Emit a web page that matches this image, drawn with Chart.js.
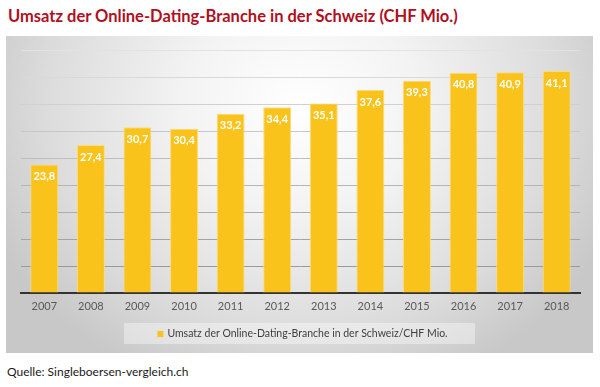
<!DOCTYPE html>
<html><head><meta charset="utf-8">
<script src="https://cdn.jsdelivr.net/npm/chart.js@4.4.1/dist/chart.umd.min.js"></script>
<style>
html,body{margin:0;padding:0;background:#fff;width:600px;height:387px;overflow:hidden;}
#title{position:absolute;left:8px;top:6px;font:bold 16.5px Lato,"Liberation Sans",sans-serif;color:#B0101E;white-space:nowrap;}
#panel{position:absolute;left:6px;top:36px;width:587px;height:317px;
 background:radial-gradient(ellipse 340px 300px at 295px 70px,#ffffff 0%,#f3f3f3 35%,#dcdcdc 75%,#c8c8c8 100%);}
#src{position:absolute;left:7px;top:364px;font:12px Lato,"Liberation Sans",sans-serif;color:#1a1a1a;white-space:nowrap;}
</style></head><body>
<div id="title">Umsatz der Online-Dating-Branche in der Schweiz (CHF Mio.)</div>
<div id="panel"><canvas id="c" width="587" height="317"></canvas></div>
<div id="src">Quelle: Singleboersen-vergleich.ch</div>
<script>
const years = ['2007','2008','2009','2010','2011','2012','2013','2014','2015','2016','2017','2018'];
const revenue = [23.8,27.4,30.7,30.4,33.2,34.4,35.1,37.6,39.3,40.8,40.9,41.1];
const seriesName = 'Umsatz der Online-Dating-Branche in der Schweiz/CHF Mio.';
const yMax = 45, yStep = 5;
const barColor = '#FAC31C';

const fmt = v => v.toFixed(1).replace('.', ',');
const FONT = 'Lato, "Liberation Sans", sans-serif';

const barLabels = {
  id: 'barLabels',
  afterDatasetsDraw(chart) {
    const ctx = chart.ctx;
    const meta = chart.getDatasetMeta(0);
    ctx.save();
    ctx.font = 'bold 11px ' + FONT;
    ctx.fillStyle = '#ffffff';
    ctx.textAlign = 'center';
    ctx.textBaseline = 'middle';
    meta.data.forEach((bar, i) => {
      ctx.fillText(fmt(chart.data.datasets[0].data[i]), bar.x, bar.y + 12);
    });
    ctx.restore();
  }
};
// legend drawn in the legend strip below the x axis, from the dataset's own label/colour
const boxLegend = {
  id: 'boxLegend',
  afterDraw(chart) {
    const ctx = chart.ctx;
    const ds = chart.data.datasets[0];
    const cx = (chart.chartArea.left + chart.chartArea.right) / 2;
    ctx.save();
    ctx.font = '10.5px ' + FONT;
    const tw = ctx.measureText(ds.label).width;
    const itemW = 6 + 4 + tw;
    const x0 = cx - itemW / 2 + 2;
    const top = chart.chartArea.bottom + 30;
    ctx.fillStyle = 'rgba(255,255,255,0.38)';
    ctx.fillRect(118, top, 351, 21);
    ctx.fillStyle = ds.backgroundColor;
    ctx.fillRect(x0, top + 8, 6, 6);
    ctx.fillStyle = '#404040';
    ctx.textAlign = 'left';
    ctx.textBaseline = 'middle';
    ctx.fillText(ds.label, x0 + 10, top + 10.5);
    ctx.restore();
  }
};

function gridCol(ctx) {
  const v = ctx.tick ? ctx.tick.value : 0;
  const t = Math.min(1, Math.max(0, v / yMax));
  const c = Math.round(145 + t * (226 - 145));
  return `rgb(${c},${c},${c})`;
}

new Chart(document.getElementById('c'), {
  type: 'bar',
  data: {
    labels: years,
    datasets: [{
      label: seriesName,
      data: revenue,
      backgroundColor: barColor,
      borderColor: '#FCDB7E',
      borderWidth: 1,
      barPercentage: 0.6,
      categoryPercentage: 1.0
    }]
  },
  options: {
    responsive: false,
    devicePixelRatio: 1,
    animation: false,
    layout: { padding: { left: 15, right: 13, top: 14, bottom: 34 } },
    scales: {
      x: {
        grid: { display: false, drawTicks: false },
        border: { display: true, color: '#333333', width: 2 },
        ticks: { color: '#595959', font: { family: FONT, size: 11 }, padding: 7 },
        afterFit(scale) { scale.height = 26; }
      },
      y: {
        min: 0, max: yMax,
        ticks: { display: false, stepSize: yStep },
        grid: { color: gridCol, drawTicks: false, lineWidth: 1 },
        border: { display: false }
      }
    },
    plugins: {
      legend: { display: false },
      tooltip: { enabled: false },
      title: { display: false }
    }
  },
  plugins: [barLabels, boxLegend]
});
</script>
</body></html>
